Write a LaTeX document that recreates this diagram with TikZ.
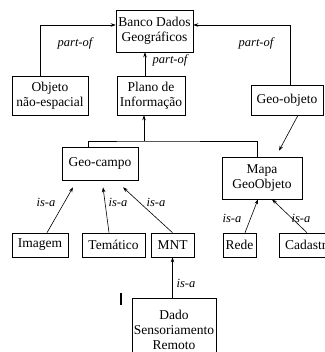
\documentclass[tikz,border=0pt]{standalone}
\usepackage{fontspec}
\setmainfont{Liberation Serif}
\usetikzlibrary{arrows.meta}

\tikzset{
  box/.style={rectangle, draw, line width=0.6pt, align=center, inner sep=1pt,
    font=\fontsize{13.5}{15}\selectfont},
  lbl/.style={font=\fontsize{12.5}{14}\selectfont\itshape, inner sep=0pt},
  arr/.style={line width=0.6pt, -{Stealth[length=5pt,width=3.5pt]}},
  lin/.style={line width=0.6pt}
}

\begin{document}
\begin{tikzpicture}[x=1pt, y=-1pt]
    \useasboundingbox (0,0) rectangle (324,352);

    % Main boxes
    \node [box, minimum width=77pt, minimum height=42pt] (banco) at (154.5,31) {Banco Dados\\Geográficos};
    \node [box, minimum width=76pt, minimum height=39pt] (objeto) at (50,95.5) {Objeto\\não-espacial};
    \node [box, minimum width=68pt, minimum height=39pt] (plano) at (151,95.5) {Plano de\\Informação};
    \node [box, minimum width=72pt, minimum height=30pt] (geoobj) at (287,100) {Geo-objeto};
    \node [box, minimum width=76pt, minimum height=33pt] (geocampo) at (100,163.5) {Geo-campo};
    \node [box, minimum width=80pt, minimum height=42pt] (mapa) at (262,178) {Mapa\\GeoObjeto};

    % Leaves
    \node [box, minimum width=56pt, minimum height=24pt] (imagem) at (40,245) {Imagem};
    \node [box, minimum width=63pt, minimum height=24pt] (tematico) at (113.5,245) {Temático};
    \node [box, minimum width=43pt, minimum height=24pt] (mnt) at (172.5,245) {MNT};
    \node [box, minimum width=33pt, minimum height=24pt] (rede) at (239.5,245) {Rede};
    \node [box, minimum width=60pt, minimum height=24pt] (cadastro) at (309,245) {Cadastro};
    \node [box, minimum width=84pt, minimum height=64pt] (dado) at (174,330) {Dado\\Sensoriamento\\Remoto};

    % part-of arrows
    \draw[arr] ([xshift=-10pt]objeto.north) |- ([yshift=6pt]banco.west);
    \draw[arr] ([xshift=3pt]geoobj.north) |- ([yshift=6pt]banco.east);
    \draw[arr] ([xshift=-6pt]plano.north) -- ([xshift=-6pt]plano.north |- banco.south);

    % fork to Plano de Informacao
    \coordinate (fork) at (144,141);
    \draw[lin] ([xshift=-12pt]geocampo.north) |- (fork) -| ([xshift=-5pt]mapa.north);
    \draw[arr] (fork) -- (fork |- plano.south);
    \draw[arr] ([xshift=11pt]geoobj.south) -- ([xshift=17pt,yshift=6pt]mapa.north);

    % is-a arrows
    \draw[arr] ([xshift=7pt]imagem.north) -- ([xshift=-27pt,yshift=-7pt]geocampo.south);
    \draw[arr] ([xshift=-4.5pt]tematico.north) -- ([xshift=3pt,yshift=-7pt]geocampo.south);
    \draw[arr] (mnt.north) -- ([xshift=23pt,yshift=-7pt]geocampo.south);
    \draw[arr] ([xshift=5.5pt]rede.north) -- ([xshift=-4pt]mapa.south);
    \draw[arr] ([xshift=-2pt]cadastro.north) -- ([xshift=10pt]mapa.south);
    \draw[arr] (dado.north -| mnt.south) -- (mnt.south);

    % Labels
    \node [lbl] (lpo1) at (75,43) {part-of};
    \node [lbl] (lpo2) at (256,43) {part-of};
    \node [lbl] (lpo3) at (170,60) {part-of};
    \node [lbl] (lis1) at (46,202) {is-a};
    \node [lbl] (lis2) at (118,202) {is-a};
    \node [lbl] (lis3) at (156,202) {is-a};
    \node [lbl] (lis4) at (232,218) {is-a};
    \node [lbl] (lis5) at (301,218) {is-a};
    \node [lbl] (lis6) at (186,283) {is-a};

    % stray mark
    \draw[line width=1.5pt] (121,293) -- (121,305);
\end{tikzpicture}
\end{document}
